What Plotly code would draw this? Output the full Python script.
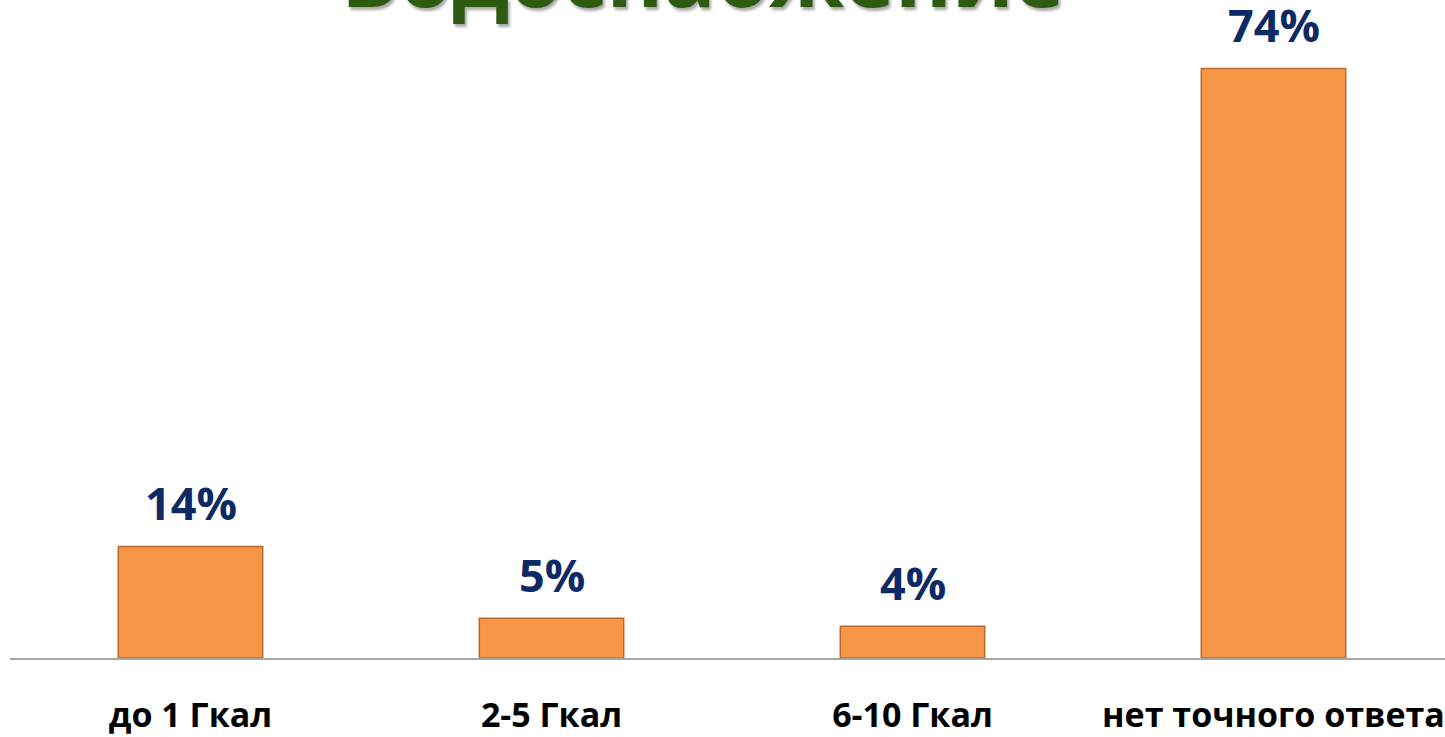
import plotly.graph_objects as go

categories = ["до 1 Гкал", "2-5 Гкал", "6-10 Гкал", "нет точного ответа"]
values = [14, 5, 4, 74]
value_labels = ["14%", "5%", "4%", "74%"]
title_text = "Водоснабжение"

W, H = 1445, 737
ML, MR, MT, MB = 10, 0, 0, 74
px_per_cat = 361.0
plot_w = W - ML - MR
x_span = plot_w / px_per_cat
plot_h = H - MT - MB
px_per_unit = 594 / 74.0
y_max = plot_h / px_per_unit

xs = list(range(len(categories)))

fig = go.Figure()
fig.add_trace(go.Bar(
    x=xs, y=values, width=0.4,
    marker=dict(color="#F79646", line=dict(color="#B8692E", width=1.5)),
    hoverinfo="skip",
))

for xi, v, lab in zip(xs, values, value_labels):
    fig.add_annotation(x=xi, y=v, xref="x", yref="y", text=f"<b>{lab}</b>",
                       showarrow=False, yanchor="bottom", yshift=11,
                       font=dict(family="Open Sans", size=45, color="#0E2A66"))

fig.add_annotation(x=(703 - ML) / plot_w, y=1, xref="paper", yref="paper",
                   text=f"<b>{title_text}</b>", showarrow=False,
                   yanchor="bottom", yshift=-34,
                   font=dict(family="Open Sans", size=86, color="#2E5A12",
                             shadow="2px 3px 3px rgba(0,0,0,0.35)"))

fig.update_layout(
    width=W, height=H,
    margin=dict(l=ML, r=MR, t=MT, b=MB, pad=0),
    paper_bgcolor="white", plot_bgcolor="white",
    showlegend=False,
    xaxis=dict(range=[-0.5, -0.5 + x_span], tickvals=xs, ticktext=[f"<b>{c}</b>" for c in categories],
               showline=True, linecolor="#A6A6A6", linewidth=2, showgrid=False, zeroline=False,
               ticks="", ticklabelstandoff=26,
               tickfont=dict(family="Open Sans", size=34, color="#000000")),
    yaxis=dict(range=[0, y_max], visible=False, showgrid=False, zeroline=False),
)

fig.write_html("out.html", config={"displayModeBar": False},
               post_script="document.body.style.margin='0px';document.body.style.overflow='hidden';")
